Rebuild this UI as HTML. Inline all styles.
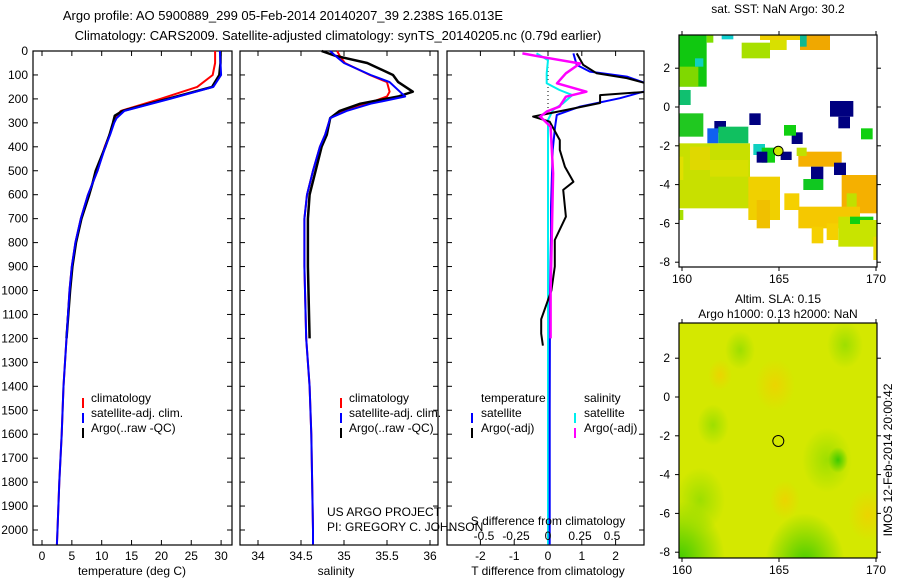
<!DOCTYPE html>
<html><head><meta charset="utf-8"><style>
html,body{margin:0;background:#fff;overflow:hidden;width:900px;height:580px;}
svg{display:block;font-family:"Liberation Sans",sans-serif;}
</style></head><body>
<svg id="fig" width="900" height="580" xmlns="http://www.w3.org/2000/svg">
<text x="283" y="20" font-size="13" text-anchor="middle">Argo profile: AO 5900889_299 05-Feb-2014 20140207_39 2.238S 165.013E</text>
<text x="338" y="40" font-size="13" text-anchor="middle">Climatology: CARS2009. Satellite-adjusted climatology: synTS_20140205.nc (0.79d earlier)</text>
<g id="g"></g>
</svg>
<script>
// ---- data ----
const depthT = [0,50,100,150,200,250,280,300,350,400,500,600,700,800,900,1000,1200,1400,1600,1800,2000,2060];
const tempClim = [29.0,29.0,28.6,26.0,19.8,13.2,12.3,12.0,11.3,10.5,9.3,7.7,6.5,5.6,5.0,4.6,4.1,3.6,3.3,2.9,2.6,2.5];
const tempSat  = [29.8,29.9,30.0,28.7,21.4,13.8,12.5,12.1,11.4,10.6,9.3,7.7,6.5,5.6,5.0,4.6,4.1,3.6,3.3,2.9,2.6,2.5];
const depthTArgo = [0,50,100,150,200,250,270,300,350,400,500,550,600,700,800,900,1000,1100,1200];
const tempArgo = [29.9,29.9,29.7,28.5,21.0,13.5,12.2,11.9,11.3,10.6,9.0,8.5,7.9,6.6,5.7,5.1,4.7,4.4,4.1];

const depthS = [0,20,50,100,130,170,190,220,250,280,350,400,500,600,700,900,1200,1400,1600,2000,2060];
const salClim = [34.92,34.95,35.01,35.30,35.50,35.53,35.50,35.27,34.99,34.84,34.78,34.72,34.64,34.57,34.54,34.54,34.56,34.60,34.62,34.64,34.64];
const salSat  = [34.84,34.90,35.00,35.31,35.53,35.65,35.71,35.31,35.03,34.84,34.78,34.72,34.64,34.57,34.54,34.54,34.56,34.60,34.62,34.64,34.64];
const depthSArgo = [0,20,50,100,130,170,190,220,250,280,350,400,500,600,700,900,1200];
const salArgo = [34.74,34.90,35.27,35.57,35.63,35.80,35.63,35.19,34.95,34.84,34.80,34.74,34.67,34.60,34.58,34.58,34.60];

const depthD = [10,58,86,107,135,163,197,232,267,316,413,650,775,1000,1500,2060];
const dTSat = [0.75,0.85,1.24,2.33,2.9,3.0,2.13,0.95,0.26,0.21,0.14,0.09,0.09,0.06,0.05,0.05];
const depthDArgo = [10,58,93,113,135,170,184,217,246,274,295,372,413,483,546,580,692,789,900,1000,1120,1180,1230];
const dTArgo = [0.85,1.04,1.44,2.33,2.9,2.95,1.54,1.54,0.55,-0.44,0.05,0.35,0.35,0.5,0.75,0.45,0.53,0.2,0.2,0.1,-0.2,-0.2,-0.15];
const depthDS = [10,24,52,93,135,170,191,232,253,274,316,511,775,1000,1200];
const dSArgo = [-0.20,-0.06,0.25,0.14,0.07,0.30,0.14,0.09,-0.01,-0.06,0.02,0.04,0.03,0.02,0.02];
const depthDSSat = [10,38,93,135,163,184,217,246,288,600,2060];
const dSSat = [-0.09,0.0,-0.01,-0.01,0.09,0.19,0.12,0.04,0.0,0.0,0.0];

const depthTicks = [0,100,200,300,400,500,600,700,800,900,1000,1100,1200,1300,1400,1500,1600,1700,1800,1900,2000];
const tTicks = [0,5,10,15,20,25,30];
const sTicks = [34,34.5,35,35.5,36];
const dtTicks = [-2,-1,0,1,2];
const dsTicks = [-0.5,-0.25,0,0.25,0.5];
const dsTickLabels = ["-0.5","-0.25","0","0.25","0.5"];
const lonTicks = [160,165,170];
const latTicksTop = [2,0,-2,-4,-6,-8];

// ---- helpers ----
const NS="http://www.w3.org/2000/svg";
const G=document.getElementById('g');
function el(t,a,parent){const e=document.createElementNS(NS,t);for(const k in a)e.setAttribute(k,a[k]);(parent||G).appendChild(e);return e;}
const TOP=51, BOT=545;
const yD = d => TOP + d*0.2395;
const xT = v => 42 + v*5.97;
const xS = v => 258 + (v-34)*86;
const xDT = v => 548 + v*33.8;
const xDS = v => 548 + v*128;

function panel(x0,x1,name){
  const r=el('rect',{x:x0,y:TOP,width:x1-x0,height:BOT-TOP,fill:'#fff',stroke:'#000','stroke-width':1.2});
  
  
  depthTicks.forEach(d=>{
    const y=yD(d);
    el('line',{x1:x0,x2:x0+5,y1:y,y2:y,stroke:'#000'});
    el('line',{x1:x1-5,x2:x1,y1:y,y2:y,stroke:'#000'});
  });
}
function xticks(ticks,f,x0,labels,withLabels){
  ticks.forEach((v,i)=>{
    const x=f(v);
    el('line',{x1:x,x2:x,y1:TOP,y2:TOP+5,stroke:'#000'});
    el('line',{x1:x,x2:x,y1:BOT-5,y2:BOT,stroke:'#000'});
    if(withLabels){const t=el('text',{x:x,y:560,'font-size':12,'text-anchor':'middle'});t.textContent=labels?labels[i]:String(v);
      
      }
  });
}
function line(ds,vs,fx,color,w,name,clip){
  const pts=ds.map((d,i)=>fx(vs[i]).toFixed(1)+','+yD(d).toFixed(1)).join(' ');
  const p=el('polyline',{points:pts,fill:'none',stroke:color,'stroke-width':w,'stroke-linejoin':'round'});
  if(clip)p.setAttribute('clip-path',clip);
  
  
}
function text(x,y,s,name,opts){const t=el('text',Object.assign({x:x,y:y,'font-size':12},opts||{}));t.textContent=s;
  
  return t;}
function legendMark(x,y,color){el('line',{x1:x,x2:x,y1:y-10,y2:y,stroke:color,'stroke-width':2});}

const defs=el('defs',{});
const cp=el('clipPath',{id:'c3'},defs); el('rect',{x:447,y:TOP,width:197,height:BOT-TOP},cp);
const cp2=el('clipPath',{id:'cm'},defs); el('rect',{x:679,y:323,width:198,height:235},cp2);

// Panel 1
panel(33,232,'temperature-panel');
xticks(tTicks,xT,33,null,true);
depthTicks.forEach(d=>{text(28,yD(d)+4,String(d),'y-tick-label',{'text-anchor':'end'});});
line(depthT,tempClim,xT,'#f00',2,'temp-climatology-line');
line(depthTArgo,tempArgo,xT,'#000',2.5,'temp-argo-line');
line(depthT,tempSat,xT,'#00f',2,'temp-satellite-line');
legendMark(83,408,'#f00');text(91,402,'climatology','legend-climatology');
legendMark(83,423,'#00f');text(91,417,'satellite-adj. clim.','legend-satellite');
legendMark(83,438,'#000');text(91,432,'Argo(..raw -QC)','legend-argo');
text(132,575,'temperature (deg C)','x-axis-title-temperature',{'text-anchor':'middle'});

// Panel 2
panel(240,438,'salinity-panel');
xticks(sTicks,xS,240,null,true);
line(depthS,salClim,xS,'#f00',2,'sal-climatology-line');
line(depthSArgo,salArgo,xS,'#000',2.5,'sal-argo-line');
line(depthS,salSat,xS,'#00f',2,'sal-satellite-line');
legendMark(341,408,'#f00');text(349,402,'climatology','legend2-climatology');
legendMark(341,423,'#00f');text(349,417,'satellite-adj. clim.','legend2-satellite');
legendMark(341,438,'#000');text(349,432,'Argo(..raw -QC)','legend2-argo');

// Panel 3
panel(447,644,'difference-panel');
xticks(dtTicks,xDT,447,null,true);
el('line',{x1:548,x2:548,y1:TOP,y2:yD(240),stroke:'#000','stroke-dasharray':'1,3'});
line(depthDSSat,dSSat,xDS,'#0ee',2,'sal-diff-satellite-line','url(#c3)');
line(depthD,dTSat,xDT,'#00f',2,'temp-diff-satellite-line','url(#c3)');
line(depthDArgo,dTArgo,xDT,'#000',2,'temp-diff-argo-line','url(#c3)');
line(depthDS,dSArgo,xDS,'#f0f',2.5,'sal-diff-argo-line','url(#c3)');
text(481,402,'temperature','legend3-temperature');
text(584,402,'salinity','legend3-salinity');
legendMark(472,423,'#00f');text(481,417,'satellite','legend3-temp-satellite');
legendMark(472,438,'#000');text(481,432,'Argo(-adj)','legend3-temp-argo');
legendMark(575,423,'#0ee');text(584,417,'satellite','legend3-sal-satellite');
legendMark(575,438,'#f0f');text(584,432,'Argo(-adj)','legend3-sal-argo');
text(327,516,'US ARGO PROJECT','credit-project');
text(327,531,'PI: GREGORY C. JOHNSON','credit-pi');
text(336,575,'salinity','x-axis-title-salinity',{'text-anchor':'middle'});
text(548,525,'S difference from climatology','s-diff-axis-title',{'text-anchor':'middle'});
dsTicks.forEach((v,i)=>{text(xDS(v),540,dsTickLabels[i],'s-diff-tick-label',{'text-anchor':'middle'});});
text(548,575,'T difference from climatology','x-axis-title-tdiff',{'text-anchor':'middle'});

// Maps
function map(top,bot,lat0y,name){
  const r=el('rect',{x:679,y:top,width:198,height:bot-top,fill:'none',stroke:'#000','stroke-width':1.2});
  
  
  lonTicks.forEach(v=>{const x=682+(v-160)*19.4;
    el('line',{x1:x,x2:x,y1:top-4,y2:top,stroke:'#000'});
    el('line',{x1:x,x2:x,y1:bot,y2:bot+4,stroke:'#000'});
    text(x,bot+16,String(v),'map-lon-label',{'text-anchor':'middle'});});
  latTicksTop.forEach(v=>{const y=lat0y-v*19.4;
    el('line',{x1:675,x2:679,y1:y,y2:y,stroke:'#000'});
    el('line',{x1:877,x2:881,y1:y,y2:y,stroke:'#000'});
    text(670,y+4,String(v),'map-lat-label',{'text-anchor':'end'});});
}
const cells=[
[58,45,140,200,'#10c810'],[58,140,115,200,'#80d800'],[105,115,130,140,'#10d0c0'],[185,45,220,58,'#10d0d0'],[140,45,160,68,'#80e000'],
[245,68,330,115,'#a8e000'],[300,45,420,60,'#f0d000'],[330,60,380,90,'#d8e000'],[420,45,510,90,'#f0a800'],[420,45,440,80,'#10b890'],
[58,210,92,255,'#10c070'],[58,280,130,350,'#20c820'],[268,280,302,315,'#000080'],[510,243,580,290,'#000080'],[535,290,570,325,'#000080'],
[163,303,198,338,'#000080'],[395,337,428,372,'#000080'],[142,325,175,370,'#1060f0'],[175,320,265,370,'#10c060'],[372,315,408,347,'#10d010'],
[603,325,638,358,'#10d010'],[280,372,315,405,'#10d0c0'],[305,383,345,428,'#10d010'],[290,395,322,428,'#000080'],[362,395,395,420,'#000080'],
[58,370,270,565,'#c8e000'],[90,380,150,450,'#e0d800'],[150,420,265,470,'#d8e000'],[265,470,360,600,'#f0d000'],[290,540,330,625,'#f0c000'],
[373,520,418,570,'#f5d000'],[415,395,545,440,'#f5b000'],[410,383,440,408,'#c0e000'],[453,440,490,477,'#000080'],[522,428,558,465,'#000080'],
[430,477,490,510,'#10c820'],[545,465,650,580,'#f5b000'],[560,520,590,570,'#c0e000'],[415,560,600,625,'#f5c800'],[455,620,490,670,'#f5d000'],
[500,610,535,660,'#f5d000'],[535,590,600,680,'#c8e400'],[570,590,640,612,'#10d010'],[600,600,650,680,'#c8e400'],[58,570,70,600,'#a8e000'],
[640,650,650,720,'#e8d800'],[58,410,70,480,'#e0e000']];
cells.forEach(c=>{const r=el('rect',{x:660+c[0]/3,y:20+c[1]/3,width:(c[2]-c[0])/3,height:(c[3]-c[1])/3,fill:c[4]});
  
  });
map(35,267,107,'sst-map');
text(778,13,'sat. SST: NaN Argo: 30.2','sst-map-title',{'text-anchor':'middle'});
el('circle',{cx:778.3,cy:151,r:4.8,fill:'#c8e800',stroke:'#000','stroke-width':1});

// bottom map (SLA)
const grad=el('radialGradient',{id:'rg1'},defs);
el('stop',{offset:'0','stop-color':'#30c800','stop-opacity':0.9},grad);el('stop',{offset:'1','stop-color':'#30c800','stop-opacity':0},grad);
const grad3=el('radialGradient',{id:'rg3'},defs);
el('stop',{offset:'0','stop-color':'#90dc00','stop-opacity':0.8},grad3);el('stop',{offset:'1','stop-color':'#90dc00','stop-opacity':0},grad3);
const grad2=el('radialGradient',{id:'rg2'},defs);
el('stop',{offset:'0','stop-color':'#f0d000','stop-opacity':0.8},grad2);el('stop',{offset:'1','stop-color':'#f0d000','stop-opacity':0},grad2);
const mg=el('g',{'clip-path':'url(#cm)'});
const sla=el('rect',{x:679,y:323,width:198,height:235,fill:'#d4e800'},mg);


[[680,560,45,'rg1'],[805,565,40,'rg1'],[827,460,25,'rg3'],[838,460,10,'rg1'],[845,345,18,'rg3'],[713,425,16,'rg3'],[740,350,15,'rg3'],[700,500,25,'rg3'],
 [775,385,20,'rg2'],[868,515,20,'rg2'],[785,500,15,'rg2'],[720,375,12,'rg2']].forEach(b=>{
  el('ellipse',{cx:b[0],cy:b[1],rx:b[2],ry:b[2]*1.3,fill:'url(#'+b[3]+')'},mg);});
map(323,558,397,'sla-map');
text(778,303,'Altim. SLA: 0.15','sla-map-title-1',{'text-anchor':'middle'});
text(778,318,'Argo h1000: 0.13 h2000: NaN','sla-map-title-2',{'text-anchor':'middle'});
el('circle',{cx:778.3,cy:441,r:5.5,fill:'none',stroke:'#000','stroke-width':1});
text(892,460,'IMOS 12-Feb-2014 20:00:42','imos-timestamp',{'text-anchor':'middle',transform:'rotate(-90 892 460)'});
</script>
</body></html>
